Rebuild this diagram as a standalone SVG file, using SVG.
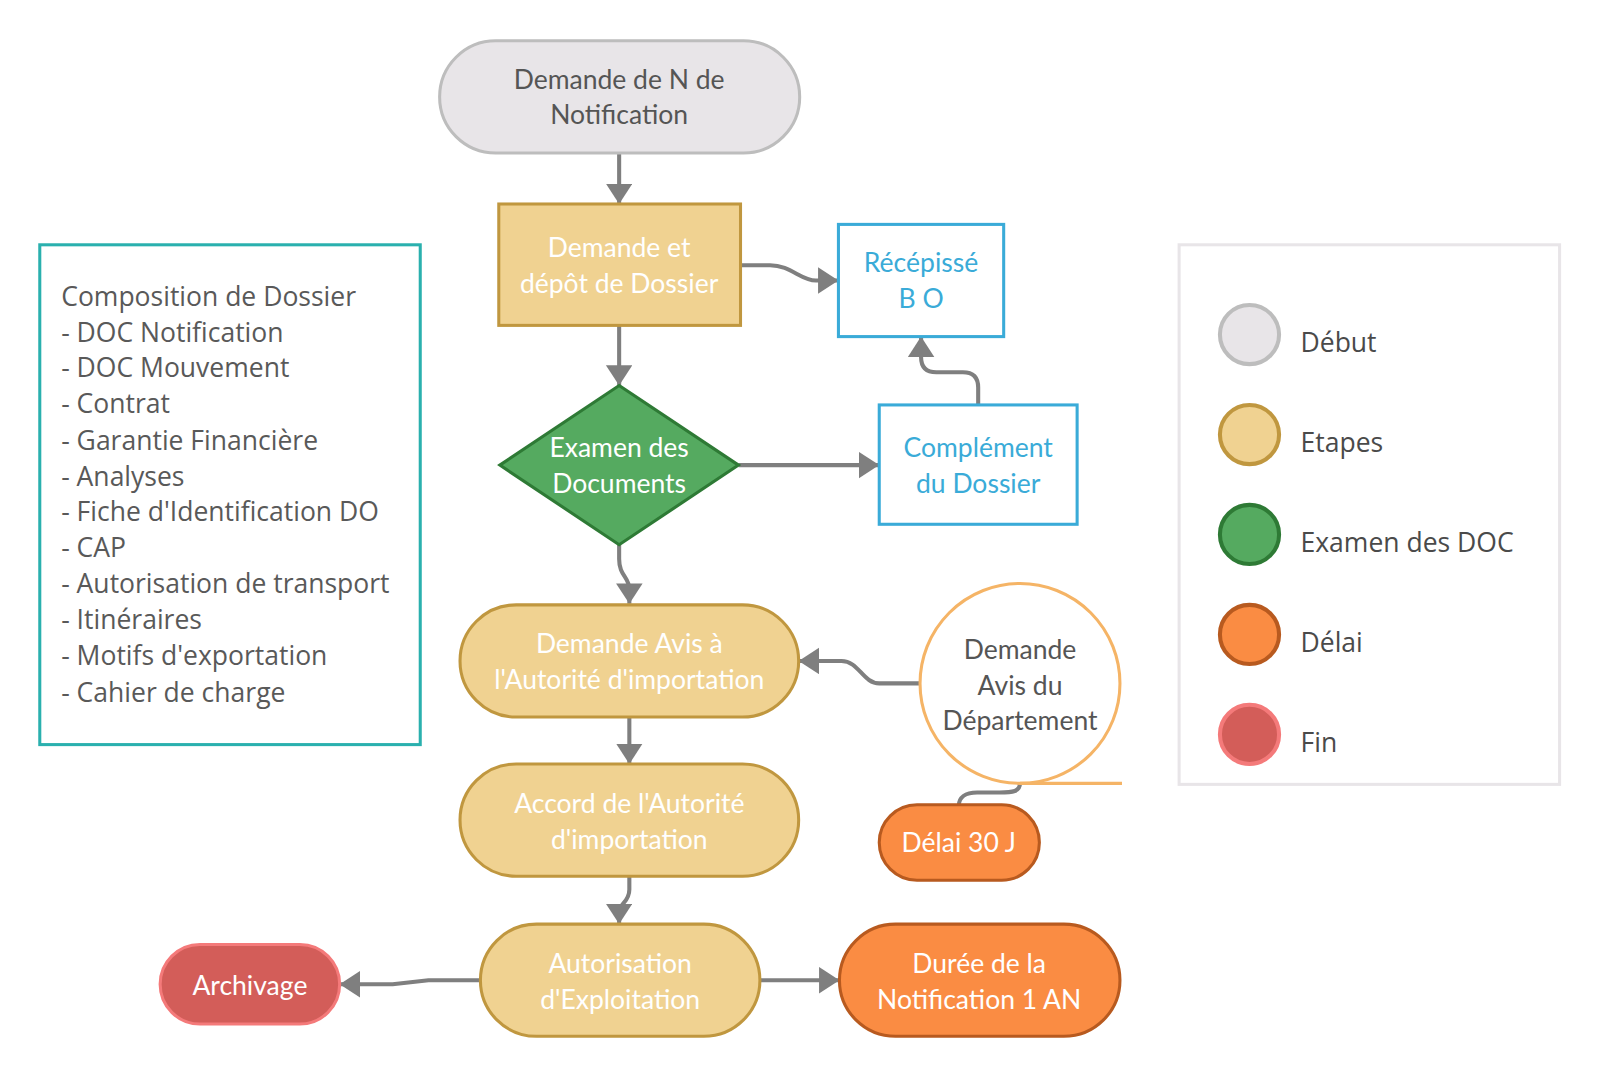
<svg xmlns="http://www.w3.org/2000/svg" width="1600" height="1077" viewBox="0 0 1600 1077">
<defs>
<style>
.n{font-family:Lato,"Open Sans","Liberation Sans",sans-serif;font-size:26px;text-anchor:middle}
.w{fill:#ffffff}
.g{fill:#555555}
.b{fill:#3aabd8}
.etape{fill:#f0d291;stroke:#c0973f;stroke-width:3}
.delai{fill:#fa8c43;stroke:#b85a1f;stroke-width:3}
.c{fill:none;stroke:#7f7f7f;stroke-width:4}
.lst{font-family:"Open Sans","Noto Sans","Liberation Sans",sans-serif;font-size:26px;fill:#595959}
.lg{font-family:"Open Sans","Noto Sans","Liberation Sans",sans-serif;font-size:26px;fill:#4a4a4a}
</style>
<marker id="ah" markerUnits="userSpaceOnUse" markerWidth="22" markerHeight="28" refX="20" refY="13" orient="auto" viewBox="0 0 22 28">
<path d="M0,0 L20,13 L0,26 z" fill="#7f7f7f"/>
</marker>
</defs>
<rect width="1600" height="1077" fill="#ffffff"/>
<g transform="scale(1.02)">

<g id="connectors">
<path class="c" d="M607,150 V200" marker-end="url(#ah)"/>
<path class="c" d="M726,260 H755 C775,260 785,275 800,275 H822" marker-end="url(#ah)"/>
<path class="c" d="M607,319 V378" marker-end="url(#ah)"/>
<path class="c" d="M724,456 H862" marker-end="url(#ah)"/>
<path class="c" d="M959,397 V380 Q959,365 944,365 H918 Q903,365 903,350 V330" marker-end="url(#ah)"/>
<path class="c" d="M607,534 V548 C607,565 617,565 617,578 V592" marker-end="url(#ah)"/>
<path class="c" d="M902,670 H862 C846,670 842,648 825,648 H783" marker-end="url(#ah)"/>
<path class="c" d="M617,703 V749" marker-end="url(#ah)"/>
<path class="c" d="M617,859 V872 C617,885 607,885 607,895 V906" marker-end="url(#ah)"/>
<path class="c" d="M471,961 H420 L385,965 H333" marker-end="url(#ah)"/>
<path class="c" d="M745,961 H823" marker-end="url(#ah)"/>
<path class="c" d="M1000,768 C1000,776 993,777 980,777 H958 C946,777 940,782 940,790"/>
</g>

<g id="start">
<rect x="431" y="40" width="353" height="110" rx="55" fill="#e8e5e8" stroke="#bdbdbd" stroke-width="3"/>
<text class="n g" x="607" y="87">Demande de N de</text>
<text class="n g" x="607" y="122">Notification</text>
</g>

<g id="depot">
<rect x="489" y="200" width="237" height="119" class="etape"/>
<text class="n w" x="607" y="252">Demande et</text>
<text class="n w" x="607" y="287">dépôt de Dossier</text>
</g>

<g id="recepisse">
<rect x="822" y="220" width="162" height="110" fill="#ffffff" stroke="#3aabd8" stroke-width="3"/>
<text class="n b" x="903" y="267">Récépissé</text>
<text class="n b" x="903" y="302">B O</text>
</g>

<g id="examen">
<path d="M607,378 L724,456 L607,534 L490,456 z" fill="#55aa60" stroke="#2e7a35" stroke-width="3"/>
<text class="n w" x="607" y="448">Examen des</text>
<text class="n w" x="607" y="483">Documents</text>
</g>

<g id="complement">
<rect x="862" y="397" width="194" height="117" fill="#ffffff" stroke="#3aabd8" stroke-width="3"/>
<text class="n b" x="959" y="448">Complément</text>
<text class="n b" x="959" y="483">du Dossier</text>
</g>

<g id="demandeAvis">
<rect x="451" y="593" width="332" height="110" rx="55" class="etape"/>
<text class="n w" x="617" y="640">Demande Avis à</text>
<text class="n w" x="617" y="675">l'Autorité d'importation</text>
</g>

<g id="accord">
<rect x="451" y="749" width="332" height="110" rx="55" class="etape"/>
<text class="n w" x="617" y="797">Accord de l'Autorité</text>
<text class="n w" x="617" y="832">d'importation</text>
</g>

<g id="autorisation">
<rect x="471" y="906" width="274" height="110" rx="55" class="etape"/>
<text class="n w" x="608" y="954">Autorisation</text>
<text class="n w" x="608" y="989">d'Exploitation</text>
</g>

<g id="archivage">
<rect x="157" y="926" width="176" height="78" rx="39" fill="#d35d59" stroke="#f47a7a" stroke-width="3"/>
<text class="n w" x="245" y="975">Archivage</text>
</g>

<g id="duree">
<rect x="823" y="906" width="275" height="110" rx="55" class="delai"/>
<text class="n w" x="960" y="954">Durée de la</text>
<text class="n w" x="960" y="989">Notification 1 AN</text>
</g>

<g id="departement">
<ellipse cx="1000" cy="670" rx="98" ry="98" fill="#ffffff" stroke="#f5b466" stroke-width="3"/>
<path d="M1000,768 H1100" fill="none" stroke="#f5b466" stroke-width="3"/>
<text class="n g" x="1000" y="646">Demande</text>
<text class="n g" x="1000" y="681">Avis du</text>
<text class="n g" x="1000" y="716">Département</text>
</g>

<g id="delai30">
<rect x="862" y="789" width="157" height="74" rx="37" class="delai"/>
<text class="n w" x="940" y="835">Délai 30 J</text>
</g>

<g id="composition">
<rect x="39" y="240" width="373" height="490" fill="#ffffff" stroke="#2ab0ae" stroke-width="3"/>
<text class="lst" x="60" y="300">Composition de Dossier</text>
<text class="lst" x="60" y="335">- DOC Notification</text>
<text class="lst" x="60" y="370">- DOC Mouvement</text>
<text class="lst" x="60" y="405">- Contrat</text>
<text class="lst" x="60" y="441">- Garantie Financière</text>
<text class="lst" x="60" y="476">- Analyses</text>
<text class="lst" x="60" y="511">- Fiche d'Identification DO</text>
<text class="lst" x="60" y="546">- CAP</text>
<text class="lst" x="60" y="581">- Autorisation de transport</text>
<text class="lst" x="60" y="617">- Itinéraires</text>
<text class="lst" x="60" y="652">- Motifs d'exportation</text>
<text class="lst" x="60" y="688">- Cahier de charge</text>
</g>

<g id="legend">
<rect x="1156" y="240" width="373" height="529" fill="#ffffff" stroke="#e8e5e8" stroke-width="3"/>
<circle cx="1225" cy="328" r="29" fill="#e8e5e8" stroke="#bdbdbd" stroke-width="4"/>
<text class="lg" x="1275" y="345">Début</text>
<circle cx="1225" cy="426" r="29" fill="#f0d291" stroke="#c0973f" stroke-width="4"/>
<text class="lg" x="1275" y="443">Etapes</text>
<circle cx="1225" cy="524" r="29" fill="#55aa60" stroke="#2e7a35" stroke-width="4"/>
<text class="lg" x="1275" y="541">Examen des DOC</text>
<circle cx="1225" cy="622" r="29" fill="#fa8c43" stroke="#b85a1f" stroke-width="4"/>
<text class="lg" x="1275" y="639">Délai</text>
<circle cx="1225" cy="720" r="29" fill="#d35d59" stroke="#f47a7a" stroke-width="4"/>
<text class="lg" x="1275" y="737">Fin</text>
</g>
</g>
</svg>
